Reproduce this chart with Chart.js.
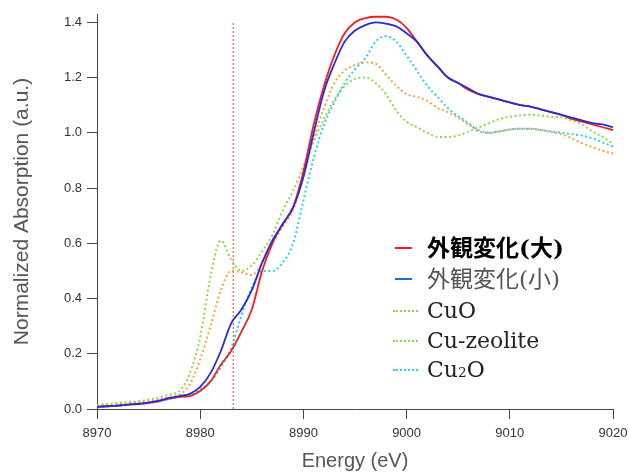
<!DOCTYPE html>
<html>
<head>
<meta charset="utf-8">
<script src="https://cdn.jsdelivr.net/npm/chart.js@4.4.1/dist/chart.umd.min.js"></script>
<style>
  body { margin: 0; background: #fff; }
  #wrap { position: relative; width: 629px; height: 473px; }
  #legend .mk { position: absolute; height: 0; }
  #legend .tx { position: absolute; white-space: nowrap; line-height: 30px; height: 30px;
    font-family: "DejaVu Serif", "Liberation Serif", "Noto Sans CJK JP", serif; font-size: 22px; color: #222; }
</style>
</head>
<body>
<div id="wrap">
  <canvas id="c" width="629" height="473"></canvas>
  <div id="legend"></div>
</div>
<script>
// ---- data ----
const energy = [8970,8971,8972,8973,8974,8975,8976,8977,8978,8979,
                8980,8981,8982,8983,8984,8985,8986,8987,8988,8989,
                8990,8991,8992,8993,8994,8995,8996,8997,8998,8999,
                9000,9001,9002,9003,9004,9005,9006,9007,9008,9009,
                9010,9011,9012,9013,9014,9015,9016,9017,9018,9019,9020];

const largeChange = [0.008,0.010,0.012,0.016,0.018,0.022,0.028,0.038,0.044,0.047,
                     0.065,0.10,0.16,0.21,0.28,0.36,0.50,0.60,0.67,0.73,
                     0.86,1.03,1.17,1.28,1.36,1.40,1.415,1.42,1.42,1.41,
                     1.38,1.33,1.28,1.24,1.20,1.18,1.155,1.14,1.13,1.12,
                     1.11,1.10,1.095,1.085,1.075,1.065,1.05,1.04,1.03,1.02,1.01];

const smallChange = [0.008,0.010,0.012,0.016,0.019,0.023,0.030,0.040,0.047,0.055,
                     0.08,0.13,0.21,0.31,0.36,0.43,0.53,0.61,0.67,0.73,
                     0.84,1.00,1.15,1.25,1.33,1.37,1.39,1.40,1.395,1.385,
                     1.36,1.33,1.28,1.24,1.20,1.18,1.16,1.14,1.13,1.12,
                     1.11,1.10,1.095,1.085,1.075,1.065,1.055,1.045,1.035,1.03,1.02];

const cuo = [0.015,0.018,0.022,0.025,0.028,0.034,0.042,0.052,0.065,0.13,
             0.26,0.48,0.61,0.54,0.50,0.52,0.57,0.63,0.72,0.79,
             0.88,0.97,1.05,1.12,1.17,1.195,1.20,1.18,1.14,1.08,
             1.04,1.02,1.00,0.985,0.985,0.99,1.005,1.02,1.035,1.05,
             1.058,1.063,1.065,1.062,1.058,1.055,1.045,1.03,1.005,0.985,0.96];

const cuZeolite = [0.012,0.014,0.017,0.020,0.024,0.028,0.034,0.042,0.052,0.09,
                   0.18,0.30,0.43,0.50,0.495,0.485,0.53,0.60,0.66,0.72,
                   0.84,0.98,1.09,1.18,1.225,1.245,1.255,1.25,1.21,1.17,
                   1.14,1.13,1.115,1.09,1.075,1.055,1.03,1.01,1.00,1.005,
                   1.012,1.015,1.015,1.01,1.003,0.995,0.98,0.962,0.948,0.935,0.925];

const cu2o = [0.008,0.010,0.012,0.015,0.018,0.022,0.028,0.036,0.043,0.05,
              0.07,0.10,0.15,0.22,0.34,0.44,0.50,0.50,0.53,0.60,
              0.755,0.91,1.03,1.11,1.18,1.23,1.27,1.33,1.35,1.33,
              1.28,1.225,1.17,1.13,1.09,1.06,1.035,1.005,1.00,1.005,
              1.012,1.015,1.015,1.01,1.005,1.00,0.995,0.99,0.98,0.965,0.95];

const refLineX = [8983.2, 8983.2];
const refLineY = [0, 1.4];

const seriesNames = ["外観変化(大)", "外観変化(小)", "CuO", "Cu-zeolite", "Cu2O"];
const xTicks = [8970, 8980, 8990, 9000, 9010, 9020];
const yTicks = [0.0, 0.2, 0.4, 0.6, 0.8, 1.0, 1.2, 1.4];

// ---- build ----
const toPts = (xs, ys) => xs.map((x, i) => ({ x: x, y: ys[i] }));

const C_RED = '#ee2020', C_BLUE = '#2a2ad8', C_GREEN = '#8ed84a', C_ORANGE = '#f4a43c', C_CYAN = '#2ccdf0';
const DOT = [2, 2.6];

const datasets = [
  { label: seriesNames[0], data: toPts(energy, largeChange), borderColor: C_RED, borderWidth: 1.8, order: 2 },
  { label: seriesNames[1], data: toPts(energy, smallChange), borderColor: C_BLUE, borderWidth: 1.8, order: 1 },
  { label: seriesNames[2], data: toPts(energy, cuo), borderColor: C_GREEN, borderWidth: 2, borderDash: DOT, order: 4 },
  { label: seriesNames[3], data: toPts(energy, cuZeolite), borderColor: C_ORANGE, borderWidth: 2, borderDash: DOT, order: 5 },
  { label: seriesNames[4], data: toPts(energy, cu2o), borderColor: C_CYAN, borderWidth: 2, borderDash: DOT, order: 3 },
  { label: 'ref', data: toPts(refLineX, refLineY), borderColor: '#e84040', borderWidth: 1, borderDash: [2, 2], order: 6, cubicInterpolationMode: 'default', tension: 0 }
];
datasets.forEach(d => { d.pointRadius = 0; d.fill = false; if (!d.cubicInterpolationMode) d.cubicInterpolationMode = 'monotone'; });

Chart.defaults.font.family = "'Liberation Sans', Arial, Helvetica, sans-serif";

new Chart(document.getElementById('c'), {
  type: 'line',
  data: { datasets: datasets },
  options: {
    responsive: false,
    animation: false,
    layout: { padding: { left: 0, right: 16, top: 14, bottom: 0 } },
    plugins: { legend: { display: false }, tooltip: { enabled: false } },
    scales: {
      x: {
        type: 'linear', min: 8970, max: 9020,
        afterFit: s => { s.height = 64; s.paddingRight = 0; },
        afterBuildTicks: s => { s.ticks = xTicks.map(v => ({ value: v })); },
        ticks: { color: '#333', font: { size: 13 }, padding: 7, maxRotation: 0, callback: v => String(v) },
        grid: { drawOnChartArea: false, drawTicks: true, tickLength: 10, color: '#444', lineWidth: 1 },
        border: { display: true, color: '#444', width: 1 },
        title: { display: true, text: 'Energy (eV)', color: '#555', font: { size: 20 }, padding: { top: 0, bottom: 0 } }
      },
      y: {
        type: 'linear', min: 0, max: 1.43,
        afterFit: s => { s.width = 97; },
        afterBuildTicks: s => { s.ticks = yTicks.map(v => ({ value: v })); },
        ticks: { color: '#333', font: { size: 13 }, padding: 5, callback: v => Number(v).toFixed(1) },
        grid: { drawOnChartArea: false, drawTicks: true, tickLength: 10, color: '#444', lineWidth: 1 },
        border: { display: true, color: '#444', width: 1 },
        title: { display: true, text: 'Normalized Absorption (a.u.)', color: '#555', font: { size: 21 }, padding: { top: 10, bottom: 0 } }
      }
    }
  }
});

// ---- legend (HTML text) ----
const legendRows = [
  { name: seriesNames[0], color: C_RED, dotted: false, y: 248, style: 'font-weight:bold;color:#000;font-size:23px;' },
  { name: seriesNames[1], color: '#1f6fc4', dotted: false, y: 279, style: 'color:#555;font-size:23px;' },
  { name: seriesNames[2], color: C_GREEN, dotted: true, y: 311, style: '' },
  { name: seriesNames[3], color: C_GREEN, dotted: true, y: 341, style: '' },
  { name: seriesNames[4], color: C_CYAN, dotted: true, y: 370, style: '' }
];
const lg = document.getElementById('legend');
legendRows.forEach(r => {
  const mk = document.createElement('div');
  mk.className = 'mk';
  if (r.dotted) {
    mk.style.cssText = `left:393px;width:25px;top:${r.y - 1}px;border-top:2px dotted ${r.color};`;
  } else {
    mk.style.cssText = `left:395px;width:17px;top:${r.y - 1}px;border-top:2px solid ${r.color};`;
  }
  lg.appendChild(mk);
  const tx = document.createElement('div');
  tx.className = 'tx';
  tx.style.cssText = `left:427px;top:${r.y - 15}px;` + r.style;
  if (r.name === 'Cu2O') {
    tx.innerHTML = 'Cu<span style="font-size:0.62em;">2</span>O';
  } else {
    tx.textContent = r.name;
  }
  lg.appendChild(tx);
});
</script>
</body>
</html>
